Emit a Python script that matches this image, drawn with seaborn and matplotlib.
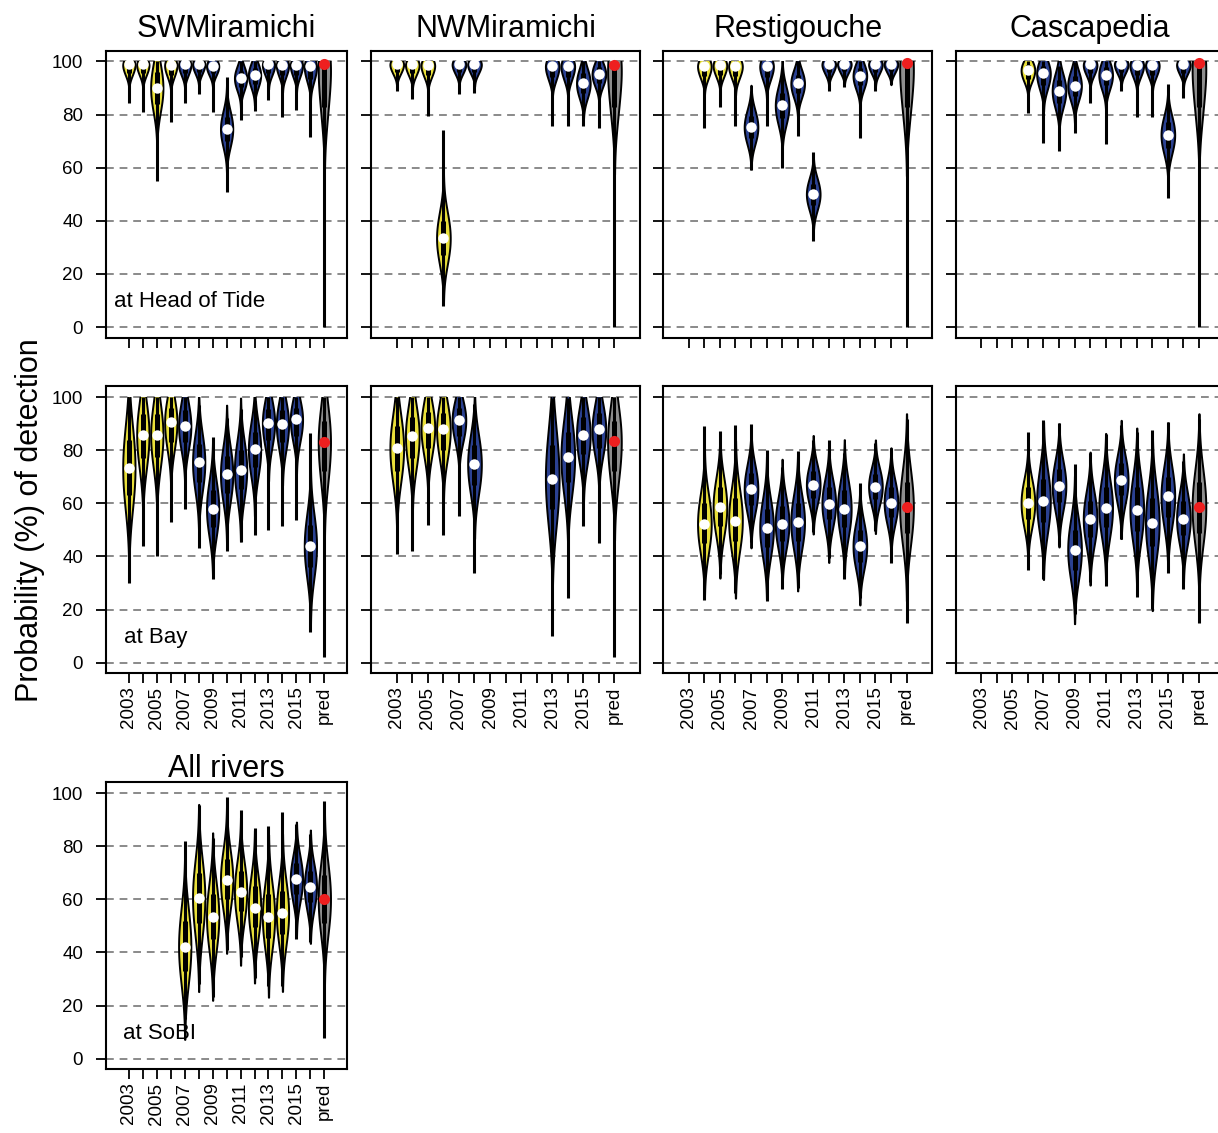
import matplotlib
matplotlib.use("Agg")
import numpy as np
import pandas as pd
import matplotlib.pyplot as plt
import seaborn as sns
from matplotlib.transforms import Bbox, TransformedBbox

N = np.nan
YEARS = [str(y) for y in range(2003, 2017)] + ["pred"]
TICK_LABELS = [lab if i % 2 == 0 else "" for i, lab in enumerate(YEARS)]
Y_TICKS = [0, 20, 40, 60, 80, 100]

# ---- group of each violin (Y = yellow, B = blue, G = prediction, . = no data)
SW_HEAD_GROUP = "YYYYBBBBBBBBBBG"
NW_HEAD_GROUP = "YYYYBB....BBBBG"
RE_HEAD_GROUP = ".YYYBBBBBBBBBBG"
CA_HEAD_GROUP = "...YBBBBBBBBBBG"
SW_BAY_GROUP = "YYYYBBBBBBBBBBG"
NW_BAY_GROUP = "YYYYBB....BBBBG"
RE_BAY_GROUP = ".YYYBBBBBBBBBBG"
CA_BAY_GROUP = "...YBBBBBBBBBBG"
ALL_SOBI_GROUP = "....YYYYYYYYBBG"

# ---- SWMiramichi, at Head of Tide
SW_HEAD_LO = [84.3, 81, 55, 77, 84.5, 87.8, 81, 51, 78, 81.5, 85.3, 79, 81.8, 71.5, 0]
SW_HEAD_Q1 = [95.5, 95.5, 84, 95, 95.5, 96, 95.5, 70, 90.5, 91.5, 95.5, 95, 95, 93.5, 83]
SW_HEAD_MED = [98.9, 98.9, 90, 98.7, 98.9, 99.1, 98.3, 74.6, 93.7, 94.9, 98.9, 98.7, 98.7, 98.2, 99]
SW_HEAD_Q3 = [99.7, 99.7, 96, 99.7, 99.7, 99.8, 99.5, 79, 96.5, 97.5, 99.7, 99.7, 99.7, 99.5, 99.8]
SW_HEAD_HI = [100, 100, 100, 100, 100, 100, 100, 94, 100, 100, 100, 100, 100, 100, 100]

# ---- NWMiramichi, at Head of Tide
NW_HEAD_LO = [89, 85.9, 79.6, 8, 87.8, 88, N, N, N, N, 75.5, 75.5, 75.5, 75, 0]
NW_HEAD_Q1 = [96, 95.5, 95, 27, 96, 96, N, N, N, N, 94, 94, 88, 92, 83]
NW_HEAD_MED = [99.1, 98.9, 98.7, 33.4, 99.1, 99.1, N, N, N, N, 98.4, 98.4, 91.7, 95.2, 98.8]
NW_HEAD_Q3 = [99.8, 99.7, 99.7, 40, 99.8, 99.8, N, N, N, N, 99.6, 99.6, 95.5, 98, 99.8]
NW_HEAD_HI = [100, 100, 100, 74, 100, 100, N, N, N, N, 100, 100, 100, 100, 100]

# ---- Restigouche, at Head of Tide
RE_HEAD_LO = [N, 75, 82.8, 75.5, 59, 75.5, 60, 72, 32.5, 89, 90.3, 71.3, 89, 91.3, 0]
RE_HEAD_Q1 = [N, 94.5, 95, 94.5, 71, 94, 78.5, 88, 46, 96, 96.2, 91, 96, 96.3, 83]
RE_HEAD_MED = [N, 98.4, 98.7, 98.4, 75.2, 98.4, 83.4, 91.7, 50, 99.1, 99.2, 94.6, 99.1, 99.2, 99.5]
RE_HEAD_Q3 = [N, 99.6, 99.7, 99.6, 79.5, 99.6, 88, 95, 54, 99.8, 99.8, 97.5, 99.8, 99.8, 99.9]
RE_HEAD_HI = [N, 100, 100, 100, 89, 100, 97, 100, 66, 100, 100, 100, 100, 100, 100]

# ---- Cascapedia, at Head of Tide
CA_HEAD_LO = [N, N, N, 80.5, 69.3, 66.3, 73, 84.3, 69, 89, 79, 79, 48.4, 86.3, 0]
CA_HEAD_Q1 = [N, N, N, 93.5, 91, 84.5, 87, 95.5, 91, 96, 95, 95, 67.5, 95.8, 83]
CA_HEAD_MED = [N, N, N, 96.7, 95.5, 89, 90.9, 98.9, 94.9, 99.1, 98.7, 98.7, 72.4, 98.9, 99.5]
CA_HEAD_Q3 = [N, N, N, 98.8, 98.2, 93, 94.5, 99.7, 98, 99.8, 99.7, 99.7, 77, 99.8, 99.9]
CA_HEAD_HI = [N, N, N, 100, 100, 98.4, 99.6, 100, 100, 100, 100, 100, 91.3, 100, 100]

# ---- SWMiramichi, at Bay
SW_BAY_LO = [30, 44, 40, 53, 58, 43, 31.7, 42, 45.4, 48, 49.9, 51.6, 53.9, 11.5, 2]
SW_BAY_Q1 = [63, 77, 77.5, 83, 83, 68, 51, 64, 65.5, 73.5, 84, 83, 85.5, 36, 72]
SW_BAY_MED = [73.2, 85.9, 85.7, 90.6, 89, 75.4, 57.9, 70.9, 72.6, 80.3, 90.4, 89.7, 91.6, 43.9, 83.2]
SW_BAY_Q3 = [84, 93.5, 93.5, 96, 95, 82.5, 65, 78, 80, 87, 95.5, 95, 96, 52, 91]
SW_BAY_HI = [100, 100, 100, 100, 100, 97, 84.8, 92, 95.6, 98.5, 100, 100, 100, 86.5, 100]

# ---- NWMiramichi, at Bay
NW_BAY_LO = [41, 41.9, 51.9, 47.9, 55.1, 33.7, N, N, N, N, 10, 24.2, 51.4, 45.1, 2.1]
NW_BAY_Q1 = [72, 77, 81, 80, 85.5, 67, N, N, N, N, 58, 68, 78.5, 81, 72]
NW_BAY_MED = [80.7, 85.4, 88.5, 87.8, 91.3, 74.7, N, N, N, N, 69.2, 77.3, 85.7, 87.8, 83.4]
NW_BAY_Q3 = [89, 92.5, 94.5, 94, 96, 82, N, N, N, N, 82, 87, 92.5, 94, 91]
NW_BAY_HI = [100, 100, 100, 100, 100, 97.5, N, N, N, N, 99.5, 99.5, 100, 100, 100]

# ---- Restigouche, at Bay
RE_BAY_LO = [N, 23.7, 33.3, 26.4, 45.4, 23.3, 27.7, 28.3, 49.1, 39.3, 31.4, 24.3, 49.5, 37.7, 14.8]
RE_BAY_Q1 = [N, 45, 51.5, 46, 59.5, 43.5, 46, 46, 62, 54, 51, 38, 61.5, 55, 49]
RE_BAY_MED = [N, 52.2, 58.5, 53.5, 65.3, 50.7, 52.4, 52.9, 67, 59.9, 57.9, 43.9, 66.3, 60.3, 58.5]
RE_BAY_Q3 = [N, 60, 66, 62, 71.5, 58, 59, 60, 72, 66, 65, 50, 71, 66, 68]
RE_BAY_HI = [N, 89, 87.3, 89.4, 89.8, 80, 73.6, 79.8, 84, 84, 79, 67.8, 82.8, 80.7, 91.9]

# ---- Cascapedia, at Bay
CA_BAY_LO = [N, N, N, 34.9, 31.7, 44.3, 18.3, 30.2, 28.7, 46.6, 24.9, 20.2, 33.7, 27.9, 14.8]
CA_BAY_Q1 = [N, N, N, 54, 53, 60.5, 35, 47.5, 51, 63, 49.5, 44, 55, 48, 49]
CA_BAY_MED = [N, N, N, 60.1, 60.7, 66.6, 42.6, 54.1, 58.2, 68.8, 57.6, 52.6, 62.6, 54.1, 58.5]
CA_BAY_Q3 = [N, N, N, 66, 69, 73, 50, 61, 66, 75, 66, 62, 70, 61, 68]
CA_BAY_HI = [N, N, N, 86.9, 91.3, 90.3, 74.7, 79, 86, 89.4, 86.9, 87.5, 90.6, 75.9, 91.9]

# ---- All rivers, at SoBI
ALL_SOBI_LO = [N, N, N, N, 14.9, 28.2, 23.2, 40.9, 38.4, 30.3, 27.4, 27.2, 45.1, 44, 7.8]
ALL_SOBI_Q1 = [N, N, N, N, 33, 51, 45, 60, 55.5, 49.5, 45.5, 47, 62, 59, 51]
ALL_SOBI_MED = [N, N, N, N, 42.2, 60.6, 53.4, 67.2, 62.8, 56.9, 53.4, 54.7, 67.6, 64.7, 60.1]
ALL_SOBI_Q3 = [N, N, N, N, 52, 70, 62, 75, 70.5, 65, 62, 63, 73.5, 70.5, 69]
ALL_SOBI_HI = [N, N, N, N, 82, 95.4, 83.2, 98.5, 93.7, 87, 87.7, 92.9, 88.2, 84.5, 97.2]

COLORS = {"Y": "#E8DF3A", "B": "#2B4191", "G": "#8E8E8E"}
MEDIAN_COLOR = "white"
PRED_COLOR = "#EE1F1F"


def long_frame(lo, q1, med, q3, hi):
    rows = []
    for i, year in enumerate(YEARS):
        if np.isnan(med[i]):
            continue
        for stat, arr in (("lo", lo), ("q1", q1), ("med", med), ("q3", q3), ("hi", hi)):
            rows.append({"year": year, "stat": stat, "value": arr[i]})
    return pd.DataFrame(rows)


sns.set_theme(style="white")
plt.rcParams["font.family"] = ["Liberation Sans", "DejaVu Sans"]
plt.rcParams["text.color"] = "black"
plt.rcParams["axes.titlecolor"] = "black"

fig = plt.figure(figsize=(12.18, 11.33), dpi=100)

ROW_BOTTOM = [0.7020, 0.4057, 0.0562]
ROW_H = 0.2532
COL_LEFT = [0.0870, 0.3048, 0.5446, 0.7847]
COL_W = [0.1981, 0.2206, 0.2206, 0.2206]

PANELS = [
    # row, col, title, note, note_x, group, arrays
    (0, 0, "SWMiramichi", "at Head of Tide", 0.035, SW_HEAD_GROUP,
     (SW_HEAD_LO, SW_HEAD_Q1, SW_HEAD_MED, SW_HEAD_Q3, SW_HEAD_HI)),
    (0, 1, "NWMiramichi", None, 0, NW_HEAD_GROUP,
     (NW_HEAD_LO, NW_HEAD_Q1, NW_HEAD_MED, NW_HEAD_Q3, NW_HEAD_HI)),
    (0, 2, "Restigouche", None, 0, RE_HEAD_GROUP,
     (RE_HEAD_LO, RE_HEAD_Q1, RE_HEAD_MED, RE_HEAD_Q3, RE_HEAD_HI)),
    (0, 3, "Cascapedia", None, 0, CA_HEAD_GROUP,
     (CA_HEAD_LO, CA_HEAD_Q1, CA_HEAD_MED, CA_HEAD_Q3, CA_HEAD_HI)),
    (1, 0, None, "at Bay", 0.075, SW_BAY_GROUP,
     (SW_BAY_LO, SW_BAY_Q1, SW_BAY_MED, SW_BAY_Q3, SW_BAY_HI)),
    (1, 1, None, None, 0, NW_BAY_GROUP,
     (NW_BAY_LO, NW_BAY_Q1, NW_BAY_MED, NW_BAY_Q3, NW_BAY_HI)),
    (1, 2, None, None, 0, RE_BAY_GROUP,
     (RE_BAY_LO, RE_BAY_Q1, RE_BAY_MED, RE_BAY_Q3, RE_BAY_HI)),
    (1, 3, None, None, 0, CA_BAY_GROUP,
     (CA_BAY_LO, CA_BAY_Q1, CA_BAY_MED, CA_BAY_Q3, CA_BAY_HI)),
    (2, 0, "All rivers", "at SoBI", 0.07, ALL_SOBI_GROUP,
     (ALL_SOBI_LO, ALL_SOBI_Q1, ALL_SOBI_MED, ALL_SOBI_Q3, ALL_SOBI_HI)),
]

for row, col, title, note, note_x, groups, arrays in PANELS:
    ax = fig.add_axes([COL_LEFT[col], ROW_BOTTOM[row], COL_W[col], ROW_H])
    df = long_frame(*arrays)
    present = [y for y in YEARS if y in set(df["year"])]
    palette = {y: COLORS[groups[YEARS.index(y)]] for y in present}

    body = df[df["stat"].isin(["q1", "med", "q3"])]
    n_before = len(ax.collections)
    sns.violinplot(data=body, x="year", y="value", hue="year", order=YEARS,
                   hue_order=present, palette=palette, legend=False, inner=None,
                   cut=2.5, bw_adjust=1.35, density_norm="width", width=0.88,
                   linewidth=1.4, linecolor="black", saturation=1, ax=ax)
    clip = TransformedBbox(Bbox([[-5, -10], [20, 100]]), ax.transData)
    for coll in ax.collections[n_before:]:
        coll.set_clip_box(clip)

    # whisker (full range) and box (quartiles)
    sns.pointplot(data=df, x="year", y="value", order=YEARS, estimator="median",
                  errorbar=("pi", 100), color="black", marker="", linestyle="none",
                  err_kws={"linewidth": 2.2, "solid_capstyle": "butt"}, ax=ax)
    sns.pointplot(data=df, x="year", y="value", order=YEARS, estimator="median",
                  errorbar=("pi", 50), color="black", marker="", linestyle="none",
                  err_kws={"linewidth": 3.6, "solid_capstyle": "butt"}, ax=ax)
    # medians
    yr = df[df["year"] != "pred"]
    pr = df[df["year"] == "pred"]
    sns.pointplot(data=yr, x="year", y="value", order=YEARS, estimator="median",
                  errorbar=None, color=MEDIAN_COLOR, marker="o", markersize=7.5,
                  markeredgewidth=0, linestyle="none", zorder=6, ax=ax)
    sns.pointplot(data=pr, x="year", y="value", order=YEARS, estimator="median",
                  errorbar=None, color=PRED_COLOR, marker="o", markersize=8,
                  markeredgewidth=0, linestyle="none", zorder=6, ax=ax)

    ax.set_xlim(-1.64, 15.64)
    ax.set_ylim(-4, 104)
    ax.set_yticks(Y_TICKS)
    ax.set_xticks(range(len(YEARS)))
    ax.set_xticklabels(TICK_LABELS, rotation=90)
    ax.set_xlabel("")
    ax.set_ylabel("")
    ax.set_axisbelow(True)
    ax.yaxis.grid(True, color="#8a8a8a", linestyle=(0, (4, 3)), linewidth=1.4)
    ax.xaxis.grid(False)
    for sp in ax.spines.values():
        sp.set_visible(True)
        sp.set_color("black")
        sp.set_linewidth(1.5)
    ax.tick_params(axis="both", direction="out", length=7.5, width=1.3,
                   color="black", labelcolor="black", labelsize=13.5,
                   left=True, bottom=True)
    ax.tick_params(axis="y", pad=9)
    ax.tick_params(axis="x", pad=2)
    if row == 0:
        ax.tick_params(axis="x", labelbottom=False)
    if col != 0:
        ax.tick_params(axis="y", labelleft=False)
    if title:
        ax.set_title(title, fontsize=22, pad=(10 if row == 0 else 4), color="black")
    if note:
        ax.text(note_x, 9.5, note, transform=ax.get_yaxis_transform(),
                fontsize=16, ha="left", va="center", color="black")

fig.text(30 / 1218, 1 - 520 / 1133, "Probability (%) of detection",
         rotation=90, ha="center", va="center", fontsize=22, color="black")

fig.savefig("out.png", dpi=100)
